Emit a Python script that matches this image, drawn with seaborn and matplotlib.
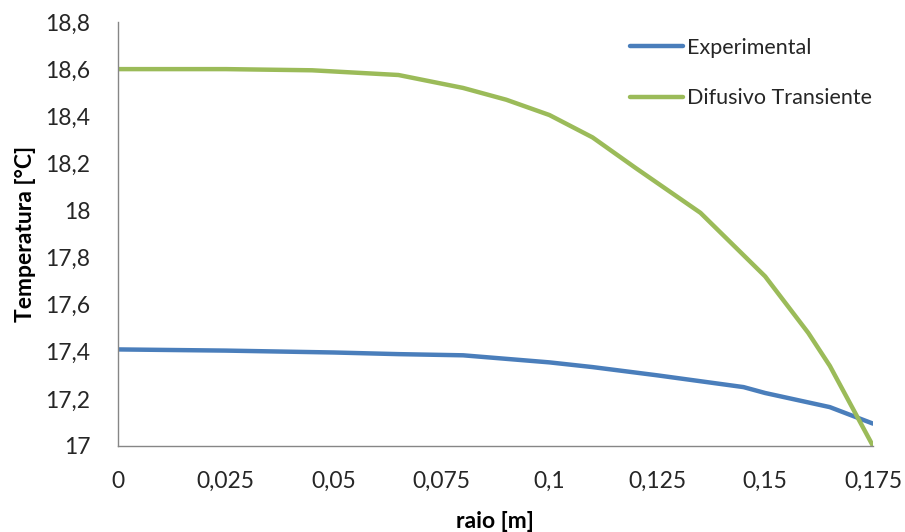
import matplotlib
matplotlib.use("Agg")
import matplotlib.pyplot as plt
import seaborn as sns
import pandas as pd
from matplotlib.ticker import FuncFormatter
from matplotlib.lines import Line2D

# Data
raio_exp = [0, 0.025, 0.05, 0.065, 0.08, 0.09, 0.1, 0.11, 0.125, 0.145, 0.15, 0.165, 0.175]
temp_exp = [17.41, 17.405, 17.397, 17.39, 17.385, 17.37, 17.355, 17.335, 17.30, 17.25, 17.225, 17.165, 17.095]

raio_dif = [0, 0.025, 0.045, 0.065, 0.08, 0.09, 0.1, 0.11, 0.12, 0.135, 0.15, 0.16, 0.165, 0.175]
temp_dif = [18.6, 18.6, 18.595, 18.575, 18.52, 18.47, 18.405, 18.31, 18.18, 17.99, 17.72, 17.48, 17.34, 17.0]

series_names = ["Experimental", "Difusivo Transiente"]
colors = ["#4A7EBB", "#9BBB59"]

x_ticks = [0, 0.025, 0.05, 0.075, 0.1, 0.125, 0.15, 0.175]
y_ticks = [17, 17.2, 17.4, 17.6, 17.8, 18, 18.2, 18.4, 18.6, 18.8]

df = pd.concat([
    pd.DataFrame({"raio": raio_exp, "temp": temp_exp, "serie": series_names[0]}),
    pd.DataFrame({"raio": raio_dif, "temp": temp_dif, "serie": series_names[1]}),
], ignore_index=True)

sns.set_style("white")
plt.rcParams["font.family"] = ["Lato", "DejaVu Sans"]

FS = 16.5
LFS = 15.5
fig = plt.figure(figsize=(9.05, 5.32), dpi=100)
ax = fig.add_axes([118/905, 1-446/532, (873-118)/905, (446-22)/532])

sns.lineplot(data=df, x="raio", y="temp", hue="serie", palette=colors,
             linewidth=3.2, sort=False, ax=ax, legend=False, estimator=None)

ax.set_xlim(0, 0.175)
ax.set_ylim(17, 18.8)
ax.set_xticks(x_ticks)
ax.set_yticks(y_ticks)

def fmt(v, pos=None):
    s = ("%.3f" % v).rstrip("0").rstrip(".")
    return s.replace(".", ",")

ax.xaxis.set_major_formatter(FuncFormatter(fmt))
ax.yaxis.set_major_formatter(FuncFormatter(fmt))

for s in ["top", "right"]:
    ax.spines[s].set_visible(False)
for s in ["left", "bottom"]:
    ax.spines[s].set_color("#868686")
    ax.spines[s].set_linewidth(1.0)
ax.tick_params(axis="both", which="major", direction="out", length=7, width=1.0,
               color="#868686", labelsize=FS, labelcolor="#262626")
ax.tick_params(axis="y", pad=13)
ax.tick_params(axis="x", pad=11)

ax.set_xlabel("raio [m]", fontsize=FS, fontweight="bold", color="#000000", va="center")
ax.set_ylabel("Temperatura [°C]", fontsize=FS, fontweight="bold", color="#000000", va="center")
ax.xaxis.set_label_coords((495-118)/755, (446-522)/424)
ax.yaxis.set_label_coords((25-118)/755, 0.5)

handles = [Line2D([0], [0], color=c, lw=3.2) for c in colors]
leg = fig.legend(handles, series_names, loc="upper left", bbox_to_anchor=(630/905, 1-38/532),
                 frameon=False, fontsize=LFS, handlelength=2.45, handletextpad=0.2,
                 labelspacing=1.4, borderpad=0.0, borderaxespad=0.0)
for t in leg.get_texts():
    t.set_color("#262626")

fig.savefig("out.png", dpi=100, facecolor="white")
